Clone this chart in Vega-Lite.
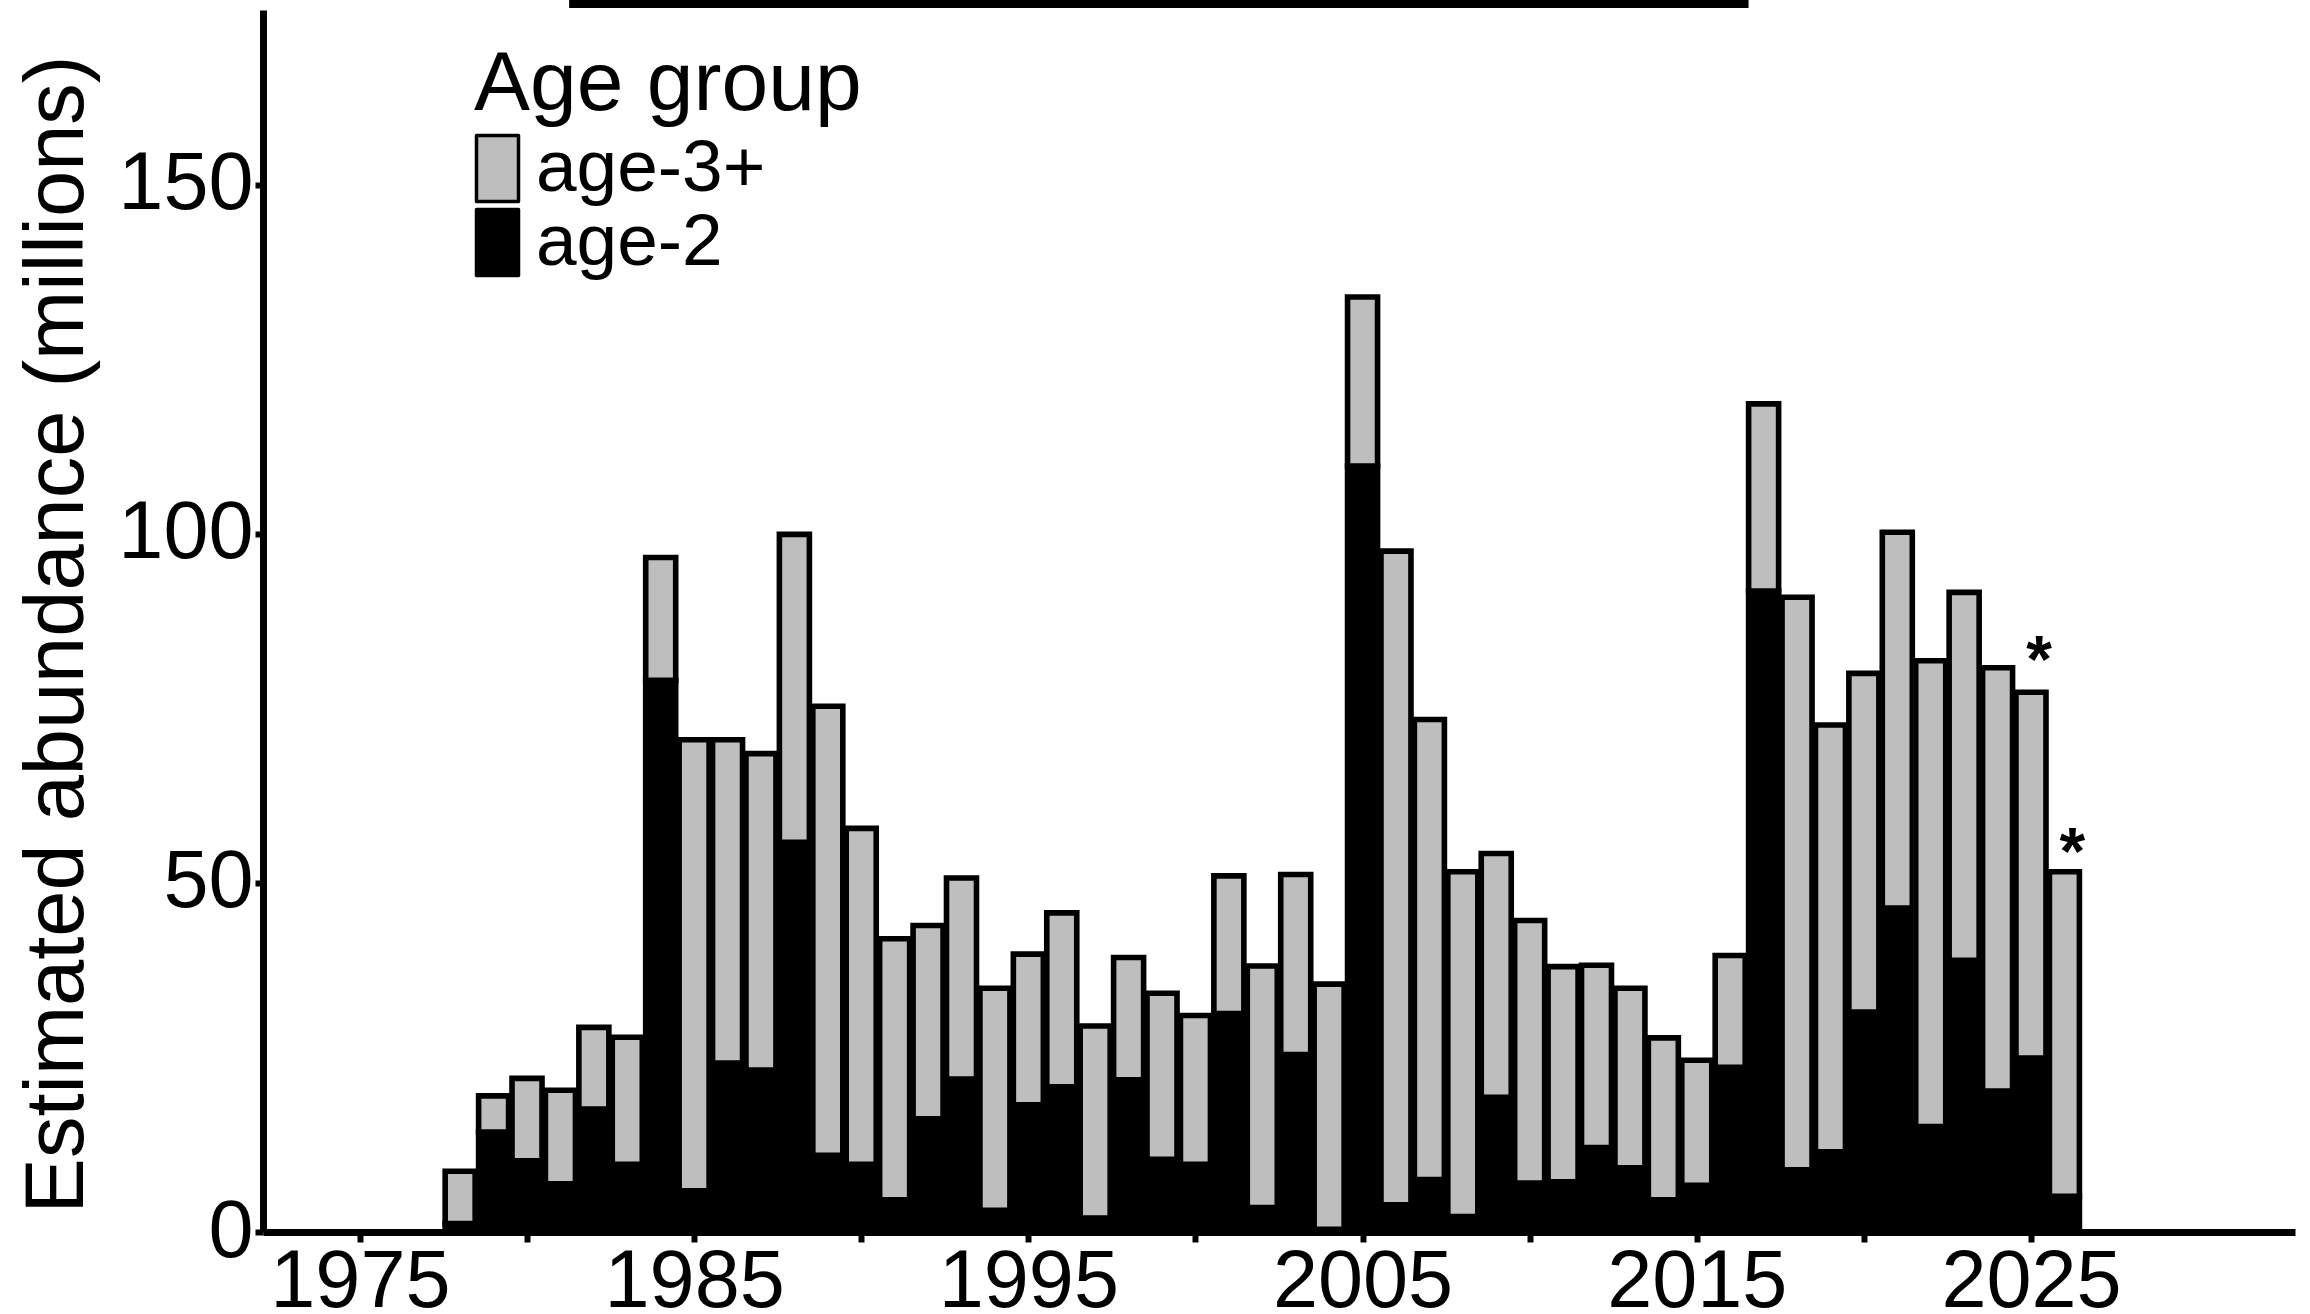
{
  "$schema": "https://vega.github.io/schema/vega-lite/v6.json",
  "width": 2032,
  "height": 1222,
  "autosize": {"type": "none"},
  "padding": {"left": 263, "top": 10, "right": 15, "bottom": 82},
  "background": "white",
  "config": {
    "font": "Liberation Sans",
    "view": {"stroke": null},
    "axis": {"grid": false, "domainColor": "black", "tickColor": "black", "labelColor": "black", "titleColor": "black", "labelLimit": 1000}
  },
  "datasets": {
    "bars": [
      {"year": 1978, "group": "age-2", "abundance": 1.2}, {"year": 1978, "group": "age-3+", "abundance": 7.5},
      {"year": 1979, "group": "age-2", "abundance": 14.3}, {"year": 1979, "group": "age-3+", "abundance": 5.2},
      {"year": 1980, "group": "age-2", "abundance": 10.2}, {"year": 1980, "group": "age-3+", "abundance": 11.8},
      {"year": 1981, "group": "age-2", "abundance": 6.9}, {"year": 1981, "group": "age-3+", "abundance": 13.4},
      {"year": 1982, "group": "age-2", "abundance": 17.6}, {"year": 1982, "group": "age-3+", "abundance": 11.7},
      {"year": 1983, "group": "age-2", "abundance": 9.7}, {"year": 1983, "group": "age-3+", "abundance": 18.2},
      {"year": 1984, "group": "age-2", "abundance": 79.0}, {"year": 1984, "group": "age-3+", "abundance": 17.6},
      {"year": 1985, "group": "age-2", "abundance": 5.9}, {"year": 1985, "group": "age-3+", "abundance": 64.6},
      {"year": 1986, "group": "age-2", "abundance": 24.2}, {"year": 1986, "group": "age-3+", "abundance": 46.3},
      {"year": 1987, "group": "age-2", "abundance": 23.2}, {"year": 1987, "group": "age-3+", "abundance": 45.3},
      {"year": 1988, "group": "age-2", "abundance": 55.8}, {"year": 1988, "group": "age-3+", "abundance": 44.1},
      {"year": 1989, "group": "age-2", "abundance": 11.0}, {"year": 1989, "group": "age-3+", "abundance": 64.3},
      {"year": 1990, "group": "age-2", "abundance": 9.7}, {"year": 1990, "group": "age-3+", "abundance": 48.1},
      {"year": 1991, "group": "age-2", "abundance": 4.6}, {"year": 1991, "group": "age-3+", "abundance": 37.4},
      {"year": 1992, "group": "age-2", "abundance": 16.2}, {"year": 1992, "group": "age-3+", "abundance": 27.7},
      {"year": 1993, "group": "age-2", "abundance": 21.9}, {"year": 1993, "group": "age-3+", "abundance": 28.8},
      {"year": 1994, "group": "age-2", "abundance": 3.1}, {"year": 1994, "group": "age-3+", "abundance": 31.8},
      {"year": 1995, "group": "age-2", "abundance": 18.2}, {"year": 1995, "group": "age-3+", "abundance": 21.6},
      {"year": 1996, "group": "age-2", "abundance": 20.8}, {"year": 1996, "group": "age-3+", "abundance": 24.9},
      {"year": 1997, "group": "age-2", "abundance": 2.0}, {"year": 1997, "group": "age-3+", "abundance": 27.5},
      {"year": 1998, "group": "age-2", "abundance": 21.8}, {"year": 1998, "group": "age-3+", "abundance": 17.5},
      {"year": 1999, "group": "age-2", "abundance": 10.4}, {"year": 1999, "group": "age-3+", "abundance": 23.8},
      {"year": 2000, "group": "age-2", "abundance": 9.7}, {"year": 2000, "group": "age-3+", "abundance": 21.3},
      {"year": 2001, "group": "age-2", "abundance": 31.3}, {"year": 2001, "group": "age-3+", "abundance": 19.7},
      {"year": 2002, "group": "age-2", "abundance": 3.5}, {"year": 2002, "group": "age-3+", "abundance": 34.6},
      {"year": 2003, "group": "age-2", "abundance": 25.4}, {"year": 2003, "group": "age-3+", "abundance": 25.8},
      {"year": 2004, "group": "age-2", "abundance": 0.4}, {"year": 2004, "group": "age-3+", "abundance": 35.1},
      {"year": 2005, "group": "age-2", "abundance": 109.7}, {"year": 2005, "group": "age-3+", "abundance": 24.2},
      {"year": 2006, "group": "age-2", "abundance": 3.9}, {"year": 2006, "group": "age-3+", "abundance": 93.6},
      {"year": 2007, "group": "age-2", "abundance": 7.5}, {"year": 2007, "group": "age-3+", "abundance": 65.9},
      {"year": 2008, "group": "age-2", "abundance": 2.2}, {"year": 2008, "group": "age-3+", "abundance": 49.4},
      {"year": 2009, "group": "age-2", "abundance": 19.3}, {"year": 2009, "group": "age-3+", "abundance": 34.9},
      {"year": 2010, "group": "age-2", "abundance": 7.0}, {"year": 2010, "group": "age-3+", "abundance": 37.6},
      {"year": 2011, "group": "age-2", "abundance": 7.2}, {"year": 2011, "group": "age-3+", "abundance": 30.8},
      {"year": 2012, "group": "age-2", "abundance": 12.1}, {"year": 2012, "group": "age-3+", "abundance": 26.1},
      {"year": 2013, "group": "age-2", "abundance": 9.2}, {"year": 2013, "group": "age-3+", "abundance": 25.7},
      {"year": 2014, "group": "age-2", "abundance": 4.6}, {"year": 2014, "group": "age-3+", "abundance": 23.2},
      {"year": 2015, "group": "age-2", "abundance": 6.7}, {"year": 2015, "group": "age-3+", "abundance": 17.9},
      {"year": 2016, "group": "age-2", "abundance": 23.6}, {"year": 2016, "group": "age-3+", "abundance": 16.0},
      {"year": 2017, "group": "age-2", "abundance": 91.8}, {"year": 2017, "group": "age-3+", "abundance": 26.8},
      {"year": 2018, "group": "age-2", "abundance": 8.9}, {"year": 2018, "group": "age-3+", "abundance": 82.0},
      {"year": 2019, "group": "age-2", "abundance": 11.5}, {"year": 2019, "group": "age-3+", "abundance": 61.1},
      {"year": 2020, "group": "age-2", "abundance": 31.5}, {"year": 2020, "group": "age-3+", "abundance": 48.5},
      {"year": 2021, "group": "age-2", "abundance": 46.4}, {"year": 2021, "group": "age-3+", "abundance": 53.8},
      {"year": 2022, "group": "age-2", "abundance": 15.1}, {"year": 2022, "group": "age-3+", "abundance": 66.7},
      {"year": 2023, "group": "age-2", "abundance": 38.9}, {"year": 2023, "group": "age-3+", "abundance": 52.7},
      {"year": 2024, "group": "age-2", "abundance": 20.2}, {"year": 2024, "group": "age-3+", "abundance": 60.6},
      {"year": 2025, "group": "age-2", "abundance": 24.9}, {"year": 2025, "group": "age-3+", "abundance": 52.4},
      {"year": 2026, "group": "age-2", "abundance": 5.1}, {"year": 2026, "group": "age-3+", "abundance": 46.5}
    ],
    "topline": [
      {"start": 1981.26, "end": 2016.55, "level": 175.86}
    ],
    "stars": [
      {"year": 2025, "level": 83.5, "note": "*"},
      {"year": 2026, "level": 56.0, "note": "*"}
    ]
  },
  "layer": [
    {
      "data": {"name": "bars"},
      "mark": {"type": "bar", "width": 30, "stroke": "black", "strokeWidth": 5.6, "opacity": 1},
      "encoding": {
        "x": {
          "field": "year", "type": "quantitative",
          "scale": {"domain": [1972.25, 2032.75], "nice": false, "zero": false},
          "axis": {
            "title": null,
            "values": [1975, 1980, 1985, 1990, 1995, 2000, 2005, 2010, 2015, 2020, 2025],
            "format": "d",
            "labelExpr": "(datum.value - 1975) % 10 == 0 ? datum.label : ''",
            "labelFlush": false,
            "labelOverlap": false,
            "labelFontSize": 81,
            "labelPadding": 0,
            "tickSize": 10,
            "tickWidth": 6,
            "domainWidth": 7
          }
        },
        "y": {
          "field": "abundance", "type": "quantitative", "stack": "zero",
          "scale": {"domain": [0, 175], "nice": false},
          "axis": {
            "title": "Estimated abundance (millions)",
            "titleFontSize": 83,
            "titleFontWeight": "normal",
            "titlePadding": 18,
            "titleY": 624,
            "values": [0, 50, 100, 150],
            "labelFontSize": 81,
            "labelPadding": 2,
            "tickSize": 8,
            "tickWidth": 6,
            "domainWidth": 7
          }
        },
        "order": {"field": "group", "type": "nominal", "sort": "ascending"},
        "color": {
          "field": "group", "type": "nominal",
          "scale": {"domain": ["age-3+", "age-2"], "range": ["#bebebe", "#000000"]},
          "legend": {
            "title": "Age group",
            "orient": "none",
            "legendX": 211,
            "legendY": 34,
            "titleFontSize": 84,
            "titleFontWeight": "normal",
            "titleColor": "black",
            "titlePadding": 4,
            "titleLimit": 1000,
            "labelFontSize": 73,
            "labelColor": "black",
            "labelLimit": 1000,
            "labelOffset": 2,
            "symbolOffset": -13,
            "symbolType": "M-1,-1.571H1V1.571H-1Z",
            "symbolSize": 1764,
            "symbolStrokeColor": "black",
            "symbolStrokeWidth": 3.5,
            "symbolOpacity": 1,
            "rowPadding": 0,
            "encode": {
              "symbols": {"update": {"strokeJoin": {"value": "round"}}}
            }
          }
        }
      }
    },
    {
      "data": {"name": "topline"},
      "mark": {"type": "rule", "color": "black", "strokeWidth": 8, "clip": false},
      "encoding": {
        "x": {"field": "start", "type": "quantitative"},
        "x2": {"field": "end"},
        "y": {"field": "level", "type": "quantitative"}
      }
    },
    {
      "data": {"name": "stars"},
      "mark": {"type": "text", "fontSize": 66, "fontWeight": "bold", "color": "black", "baseline": "alphabetic", "align": "center", "dx": 8, "dy": 33},
      "encoding": {
        "x": {"field": "year", "type": "quantitative"},
        "y": {"field": "level", "type": "quantitative"},
        "text": {"field": "note"}
      }
    }
  ]
}
